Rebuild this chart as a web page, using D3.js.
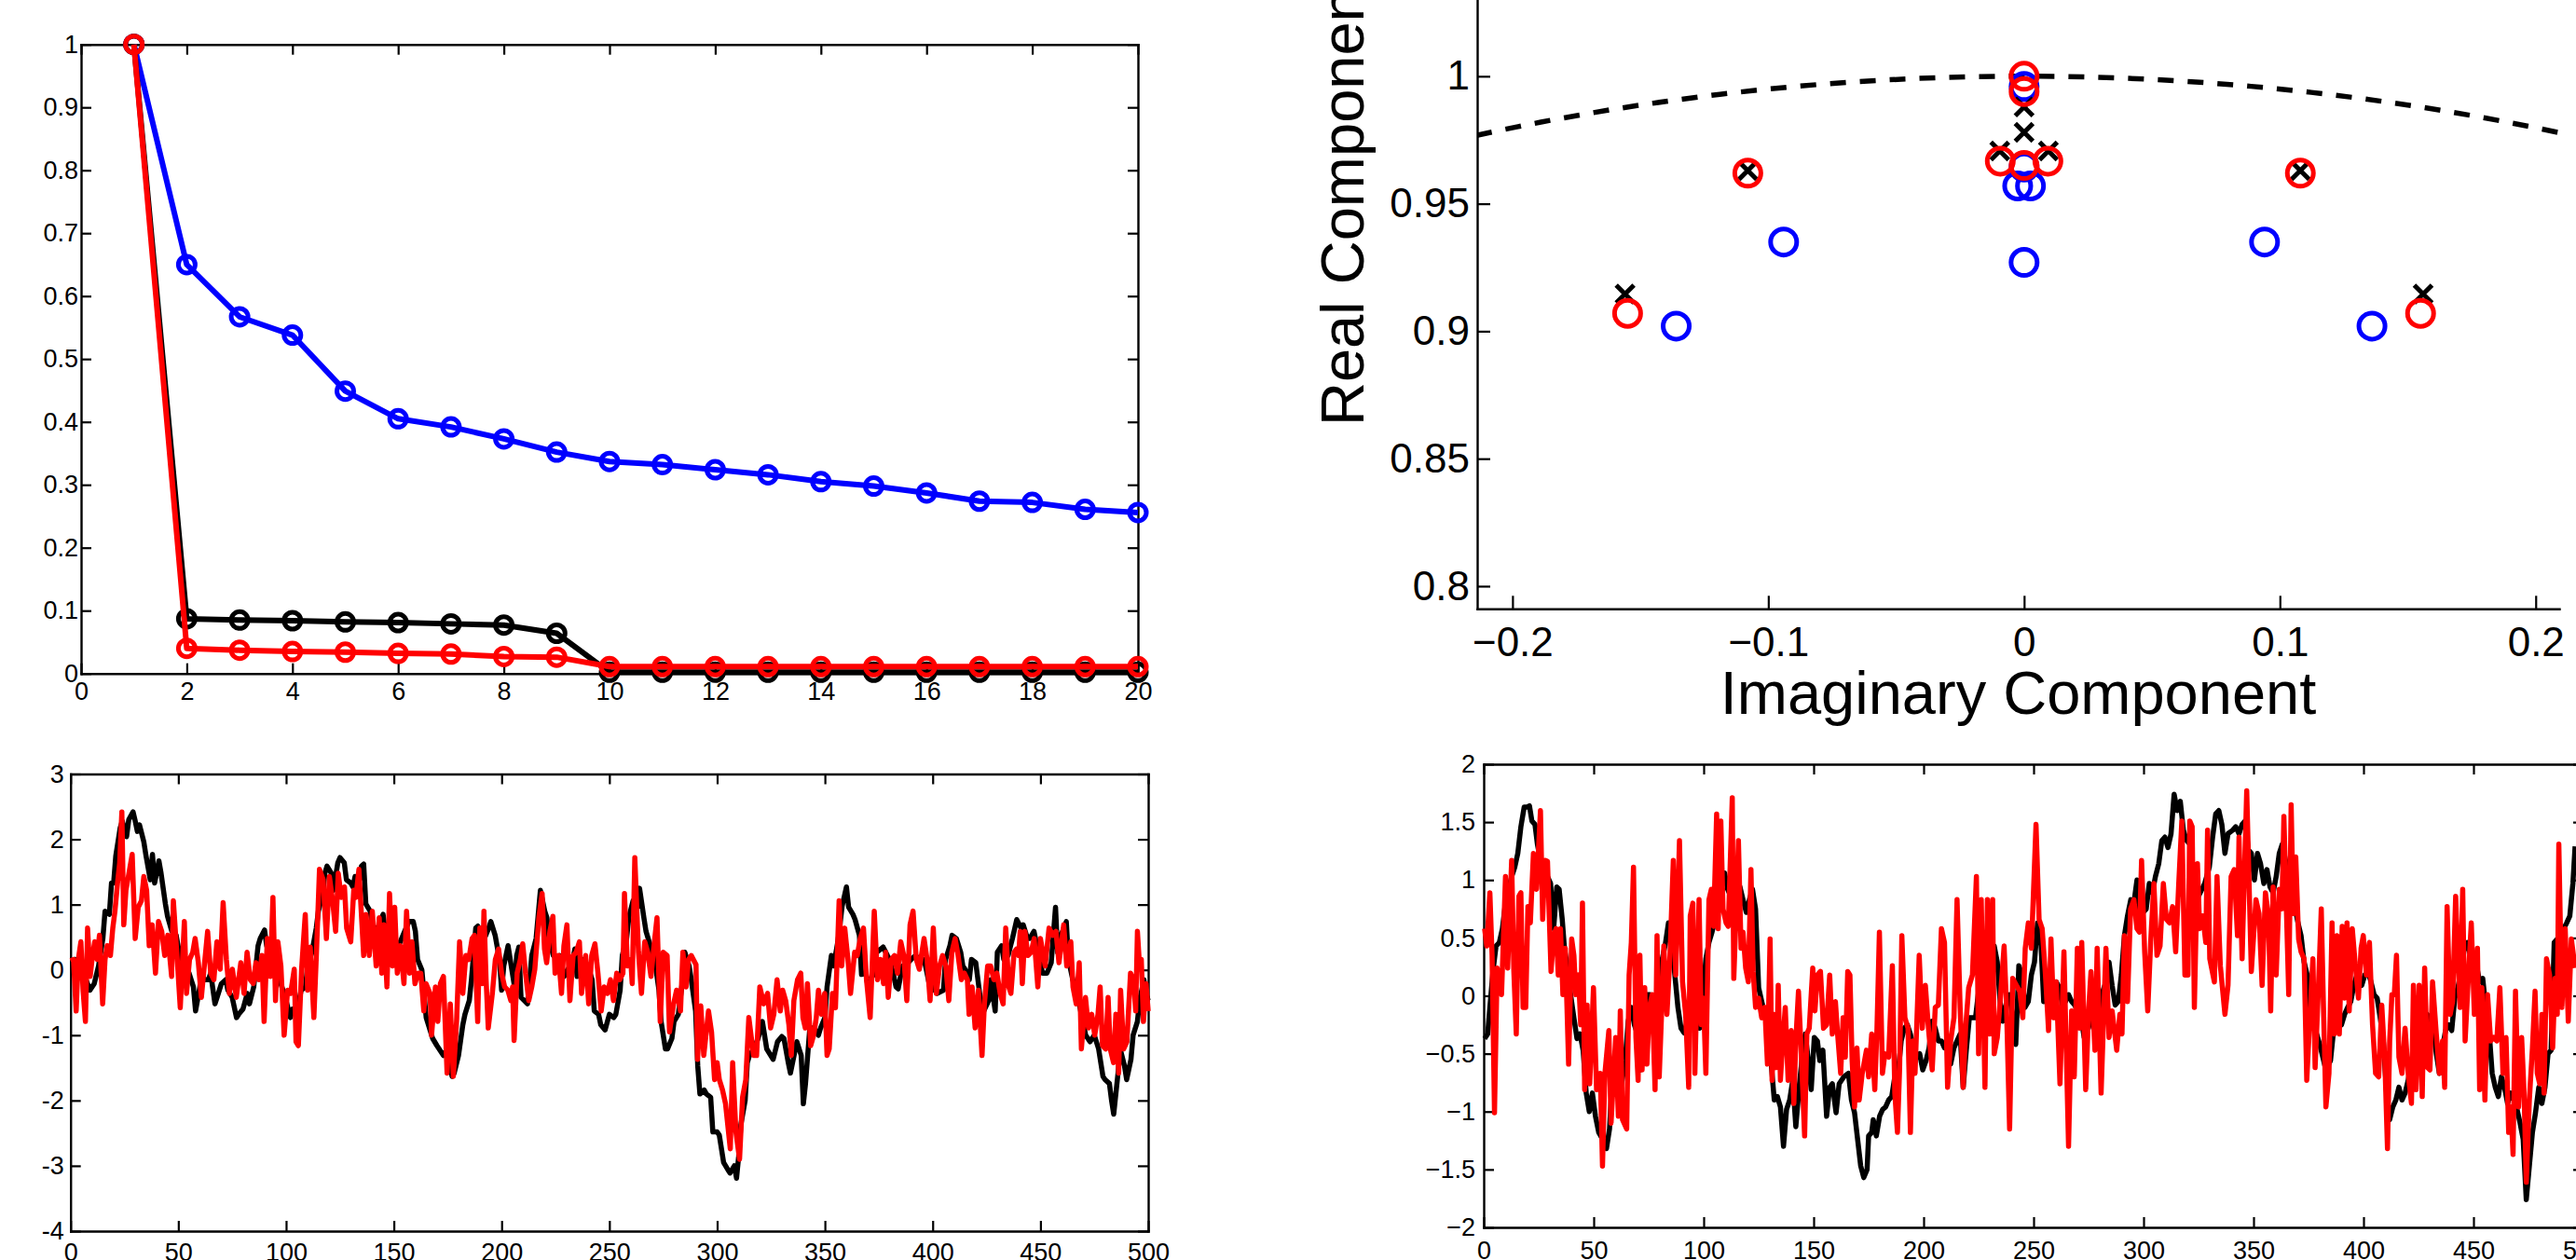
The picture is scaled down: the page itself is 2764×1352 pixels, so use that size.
<!DOCTYPE html>
<html>
<head>
<meta charset="utf-8">
<script src="https://cdn.jsdelivr.net/npm/d3@7"></script>
<style>
  body { margin: 0; background: #fff; }
  svg { display: block; }
</style>
</head>
<body>
<div id="chart"></div>
<script>
// ---- panel 1: normalised spectra ----
const rank = [1,2,3,4,5,6,7,8,9,10,11,12,13,14,15,16,17,18,19,20];
const specBlue = [1.0,0.65,0.567,0.538,0.449,0.405,0.392,0.373,0.352,0.337,0.332,0.324,0.316,0.305,0.298,0.287,0.274,0.272,0.261,0.256];
const specBlack = [1.0,0.087,0.085,0.084,0.082,0.081,0.079,0.077,0.064,0.002,0.002,0.002,0.002,0.002,0.002,0.002,0.002,0.002,0.002,0.002];
const specRed = [1.0,0.040,0.037,0.035,0.034,0.032,0.031,0.027,0.026,0.011,0.011,0.011,0.011,0.011,0.011,0.011,0.011,0.011,0.011,0.011];
const specXTicks = [0,2,4,6,8,10,12,14,16,18,20];
const specYTicks = [0,0.1,0.2,0.3,0.4,0.5,0.6,0.7,0.8,0.9,1];

// ---- panel 2: eigenvalues [imag, real] ----
const eigBlue = [[-0.094,0.935],[0.094,0.935],[-0.136,0.902],[0.136,0.902],[0,0.927],[-0.0025,0.957],[0.0025,0.957],[0,0.9644],[0,0.996]];
const eigBlack = [[0,0.988],[0,0.978],[-0.0095,0.9707],[0.0095,0.9707],[-0.108,0.963],[0.108,0.963],[-0.156,0.9146],[0.156,0.9146]];
const eigRed = [[0,1.0],[0,0.994],[-0.0093,0.9667],[0.0093,0.9667],[0,0.965],[-0.108,0.962],[0.108,0.962],[-0.155,0.907],[0.155,0.907]];
const eigXTicks = [-0.2,-0.1,0,0.1,0.2];
const eigYTicks = [0.8,0.85,0.9,0.95,1];

// ---- panel 3: first time series [t, value] ----
const ts1Black = [[0,0.14],[2,0.16],[6,-0.05],[9,-0.31],[11,-0.21],[13,0.06],[15,0.48],[16,0.90],[18,0.85],[19,1.33],[20,1.33],[21,1.75],[23,2.17],[24,2.28],[26,2.04],[27,2.30],[29,2.42],[30,2.28],[31,2.12],[32,2.22],[34,1.96],[35,1.75],[37,1.38],[38,1.77],[39,1.33],[41,1.67],[42,1.48],[44,1.01],[45,0.82],[47,0.59],[49,0.53],[51,0.16],[53,0.06],[55,-0.05],[57,-0.26],[58,-0.63],[60,-0.26],[61,-0.05],[62,-0.15],[64,-0.15],[65,-0.05],[67,-0.52],[68,-0.42],[70,-0.21],[72,-0.15],[73,-0.31],[75,-0.42],[77,-0.73],[78,-0.68],[80,-0.60],[82,-0.36],[83,-0.52],[85,-0.26],[87,0.37],[88,0.48],[90,0.61],[91,0.37],[93,0.16],[94,-0.05],[96,0.06],[97,-0.15],[99,-0.36],[100,-0.47],[102,-0.73],[103,-0.60],[104,-0.63],[106,-0.47],[107,-0.31],[109,-0.26],[110,0.06],[112,0.27],[114,0.64],[115,0.90],[117,1.17],[118,1.48],[119,1.59],[121,1.48],[122,1.22],[124,1.64],[125,1.72],[127,1.64],[128,1.38],[130,1.33],[131,1.27],[132,1.43],[134,1.38],[135,1.59],[136,1.62],[137,1.01],[139,0.90],[140,0.69],[142,0.59],[145,0.85],[146,0.59],[148,0.37],[149,0.22],[150,0.16],[152,0.37],[153,0.43],[155,0.59],[157,0.74],[159,0.74],[160,0.59],[161,0.16],[163,0.0],[165,-0.73],[168,-1.05],[170,-1.16],[173,-1.31],[175,-1.21],[177,-1.63],[178,-1.58],[180,-1.31],[182,-0.84],[183,-0.68],[185,-0.47],[186,-0.15],[188,0.64],[189,0.67],[191,0.43],[192,0.48],[194,0.64],[195,0.74],[197,0.53],[199,0.16],[200,-0.31],[201,0.06],[203,0.37],[204,0.16],[206,-0.26],[207,0.22],[208,0.35],[209,-0.42],[212,-0.52],[213,-0.15],[214,0.22],[216,0.48],[218,1.22],[220,0.90],[221,0.80],[222,0.48],[224,0.22],[226,0.16],[227,0.22],[229,-0.10],[230,-0.05],[233,0.16],[234,0.32],[235,-0.10],[238,0.16],[240,0.06],[242,-0.15],[243,-0.63],[245,-0.68],[246,-0.84],[248,-0.92],[250,-0.68],[252,-0.73],[253,-0.68],[255,-0.31],[256,0.22],[258,0.48],[259,0.80],[261,1.06],[263,0.96],[264,1.25],[266,0.80],[267,0.59],[269,0.37],[271,0.16],[273,-0.31],[274,-0.79],[276,-1.21],[277,-1.21],[279,-1.05],[280,-0.79],[282,-0.68],[284,-0.15],[285,0.27],[287,0.06],[288,-0.15],[290,-0.63],[291,-1.47],[292,-1.90],[294,-1.84],[295,-1.90],[297,-1.95],[298,-2.48],[300,-2.48],[301,-2.53],[303,-2.95],[305,-3.06],[306,-3.11],[308,-3.00],[309,-3.19],[310,-2.85],[311,-2.37],[313,-2.00],[314,-1.42],[315,-1.31],[317,-1.21],[319,-1.05],[321,-0.79],[322,-1.00],[323,-1.21],[326,-1.37],[328,-1.10],[330,-1.02],[331,-1.05],[333,-1.42],[334,-1.58],[336,-1.26],[337,-1.10],[339,-1.31],[340,-2.05],[341,-1.74],[343,-0.89],[345,-0.89],[347,-1.0],[348,-0.89],[350,-0.73],[351,-0.26],[353,0.22],[354,0.06],[356,0.43],[357,0.69],[358,0.98],[360,1.27],[361,0.96],[363,0.85],[364,0.77],[366,0.53],[367,-0.07],[369,-0.05],[370,-0.26],[371,-0.15],[373,-0.05],[374,0.27],[376,0.32],[377,0.35],[379,0.22],[380,0.16],[382,-0.10],[383,-0.26],[384,-0.29],[386,0.06],[387,0.06],[390,0.16],[392,0.22],[394,0.16],[396,0.16],[397,0.01],[399,-0.31],[400,-0.26],[402,-0.36],[405,-0.31],[406,0.16],[408,0.37],[409,0.53],[411,0.48],[413,0.27],[414,0.06],[415,0.01],[417,-0.15],[418,0.16],[420,0.11],[421,-0.15],[423,-0.68],[426,-0.47],[427,-0.15],[429,-0.63],[430,0.27],[432,0.37],[433,0.16],[435,0.22],[437,0.48],[439,0.77],[441,0.64],[442,0.69],[444,0.48],[445,0.48],[447,0.59],[449,0.27],[451,-0.05],[453,-0.05],[455,0.11],[457,0.96],[458,0.27],[459,0.48],[462,0.74],[463,0.16],[465,-0.15],[467,-0.36],[469,-0.68],[471,-1.0],[473,-1.10],[475,-1.0],[477,-1.21],[479,-1.63],[480,-1.68],[482,-1.74],[483,-2.00],[484,-2.21],[486,-1.58],[487,-1.21],[489,-1.47],[490,-1.68],[492,-1.37],[493,-1.0],[495,-0.79],[496,-0.47],[498,-0.15],[499,-0.36],[500,-0.47]];
const ts1Red = [[0,0.14],[1.4,0.16],[2.6,-0.63],[3.6,0.16],[4.8,0.43],[5.8,-0.31],[6.9,-0.79],[7.9,0.64],[9.1,-0.10],[10.2,0.22],[11.2,0.43],[12.3,0.16],[13.4,0.53],[14.9,-0.52],[16.0,0.16],[17.0,0.37],[18.5,0.22],[19.6,0.64],[20.6,0.90],[21.8,1.33],[22.8,1.64],[23.8,2.42],[24.7,0.69],[25.7,1.22],[27.1,1.48],[28.6,1.77],[30.0,0.48],[31.4,0.96],[32.9,1.06],[34.0,1.43],[35.3,1.22],[36.5,0.37],[37.9,0.69],[39.4,-0.05],[40.8,0.74],[42.3,0.59],[43.7,0.22],[45.1,0.53],[46.9,-0.10],[47.7,1.06],[49.5,0.16],[50.9,-0.58],[52.8,0.74],[53.8,-0.36],[55.2,0.16],[56.7,0.27],[57.8,0.48],[59.3,0.11],[60.7,-0.42],[62.2,0.11],[63.6,0.59],[65.0,-0.05],[66.5,-0.15],[67.9,0.43],[69.4,0.01],[70.8,1.03],[72.3,0.16],[73.7,-0.36],[75.1,0.01],[76.9,-0.42],[79.0,0.11],[80.5,-0.36],[81.9,0.27],[83.4,-0.15],[84.8,-0.21],[86.0,0.11],[87.4,-0.15],[88.8,0.22],[89.8,-0.79],[91.3,0.48],[92.7,-0.10],[93.9,1.11],[95.1,-0.47],[96.2,0.43],[97.6,0.06],[99.1,-1.0],[100.7,-0.31],[102.1,-0.36],[103.8,0.01],[104.6,-1.10],[105.7,-1.16],[107.2,0.01],[108.9,0.85],[110.0,-0.31],[111.2,0.35],[112.9,-0.73],[114.1,0.27],[115.5,1.54],[117.2,1.38],[118.7,0.48],[120.1,1.43],[121.6,1.06],[123.0,0.59],[124.2,1.48],[125.6,1.11],[127.1,1.27],[128.1,0.64],[130.0,0.43],[131.4,1.22],[132.4,1.11],[133.8,1.54],[136.0,0.22],[137.1,0.85],[138.6,0.22],[140.0,0.90],[141.8,0.06],[143.2,0.80],[144.4,-0.05],[145.4,0.69],[146.8,-0.26],[148.0,1.17],[149.4,0.06],[150.4,0.96],[151.6,-0.05],[153.0,0.37],[154.7,-0.21],[155.9,0.90],[157.3,-0.05],[158.4,0.43],[159.8,-0.21],[161.2,-0.05],[162.5,-0.05],[163.9,-0.63],[164.9,-0.21],[166.8,-0.36],[167.5,-1.0],[169.3,-0.26],[170.4,-0.79],[171.6,-0.21],[173.0,-0.10],[174.7,-1.58],[176.2,-0.52],[177.6,-1.63],[179.1,-0.79],[180.5,0.43],[182.0,-0.36],[183.4,0.22],[184.8,0.16],[186.3,0.48],[187.4,0.53],[188.9,-0.79],[189.9,0.64],[191.1,-0.21],[191.8,0.90],[192.8,-0.15],[193.8,-0.89],[195.7,-0.36],[197.1,0.16],[198.6,0.32],[200.0,-0.05],[201.4,-0.26],[202.9,-0.31],[204.3,-0.47],[205.1,-0.26],[205.8,-1.08],[207.2,-0.05],[208.7,0.16],[209.8,0.40],[211.1,-0.05],[212.6,-0.47],[214.0,-0.26],[215.4,0.01],[217.3,0.80],[218.8,1.17],[219.9,0.32],[220.9,0.11],[222.4,0.59],[223.8,0.82],[224.8,-0.05],[226.4,0.22],[227.8,-0.36],[228.9,0.37],[230.3,0.69],[231.7,-0.47],[233.2,0.22],[234.6,0.27],[236.1,0.43],[237.1,-0.36],[239.0,0.22],[240.4,-0.52],[241.8,0.22],[243.3,0.40],[244.7,-0.05],[246.2,-0.63],[247.6,-0.26],[249.1,-0.36],[250.5,-0.15],[251.9,-0.47],[253.4,-0.05],[254.8,-0.15],[256.3,-0.05],[257.0,1.17],[258.4,0.06],[259.9,0.16],[260.6,-0.21],[261.8,1.72],[263.5,0.27],[264.9,-0.36],[266.4,0.43],[267.8,0.27],[269.3,-0.10],[270.7,0.37],[272.1,0.80],[273.6,-0.79],[275.0,0.27],[276.8,0.22],[277.9,-0.95],[279.8,-0.52],[281.2,-0.31],[283.0,-0.63],[284.1,0.27],[285.6,-0.26],[286.7,0.16],[288.0,0.22],[290.2,0.08],[290.9,-1.37],[292.4,-0.55],[293.8,-1.31],[296.0,-0.63],[297.4,-0.95],[298.8,-1.68],[300.0,-1.42],[301.0,-1.68],[302.5,-1.84],[303.9,-2.05],[306.1,-2.74],[307.2,-1.42],[308.7,-2.48],[310.4,-2.90],[311.8,-1.95],[313.3,-1.68],[314.7,-0.73],[316.9,-1.31],[318.3,-1.31],[319.8,-0.26],[321.6,-0.52],[323.4,-0.36],[324.8,-0.89],[326.3,-0.68],[327.8,-0.15],[329.3,-0.63],[330.4,-0.31],[331.8,-0.47],[333.3,-0.84],[334.4,-1.31],[335.6,-0.47],[337.3,-0.15],[338.8,-0.05],[339.8,-0.73],[340.9,-0.89],[341.9,-0.21],[343.4,-1.16],[344.8,-1.0],[346.0,-0.73],[347.0,-0.31],[348.4,-0.68],[349.9,-0.36],[351.0,-1.31],[352.0,-1.21],[353.5,-0.36],[354.9,-0.58],[356.6,1.06],[357.8,0.06],[359.2,0.64],[360.7,0.16],[361.9,-0.36],[363.8,0.27],[365.0,0.22],[366.4,0.48],[367.9,0.64],[369.3,-0.15],[371.0,-0.73],[372.9,0.90],[374.4,-0.15],[375.8,0.16],[377.2,-0.21],[378.2,0.27],[379.4,-0.42],[380.8,0.16],[382.3,0.22],[383.7,-0.05],[385.2,0.43],[386.6,0.22],[388.0,-0.47],[389.5,0.69],[390.9,0.90],[392.4,0.16],[393.8,0.01],[396.0,0.48],[397.4,0.16],[398.8,-0.47],[400.3,0.64],[401.7,-0.36],[403.2,0.06],[404.6,0.22],[406.1,0.06],[407.5,-0.47],[408.9,0.27],[410.4,0.48],[411.8,0.22],[413.3,-0.15],[414.7,-0.05],[416.1,-0.15],[416.9,-0.68],[418.3,-0.26],[419.7,-0.89],[421.2,-0.31],[422.9,-1.31],[424.0,-0.52],[425.5,0.06],[426.9,0.06],[428.4,-0.15],[429.8,-0.05],[431.3,-0.36],[432.7,-0.52],[433.9,0.64],[435.3,-0.26],[436.3,-0.36],[437.8,0.27],[438.9,0.32],[439.9,0.22],[440.6,0.59],[441.6,-0.21],[442.8,0.59],[444.2,0.22],[445.7,0.27],[447.1,0.48],[448.8,-0.26],[450.0,0.48],[452.2,0.06],[454.0,0.64],[455.8,0.53],[457.2,0.59],[458.6,0.11],[460.8,0.69],[462.2,0.06],[464.1,0.43],[465.1,-0.26],[466.6,-0.52],[468.0,0.11],[469.0,-1.21],[470.9,-0.42],[472.3,-0.89],[473.8,-0.68],[475.2,-1.0],[476.7,-0.68],[477.7,-0.26],[478.8,-1.16],[480.3,-1.21],[481.4,-0.42],[482.4,-1.21],[483.9,-1.42],[485.0,-0.68],[486.3,-1.58],[487.2,-0.31],[488.6,-1.21],[490.1,-1.10],[491.8,-0.05],[493.2,-0.15],[494.2,-0.63],[495.0,0.59],[495.8,0.16],[496.8,0.16],[497.8,-0.79],[499.0,-0.21],[500,-0.63]];
const ts1YTicks = [-4,-3,-2,-1,0,1,2,3];

// ---- panel 4: second time series [t, value] ----
const ts2Black = [[0.4,-0.37],[1.8,-0.33],[2.8,-0.10],[4.2,0.21],[5.6,0.43],[7.1,0.46],[8.5,0.58],[9.9,0.80],[11.3,0.92],[12.7,1.03],[14.1,1.11],[15.5,1.23],[16.9,1.46],[18.4,1.63],[19.8,1.63],[20.8,1.64],[21.9,1.51],[23.3,1.48],[24.4,1.31],[25.8,1.17],[27.5,1.09],[29.0,1.03],[30.4,0.97],[31.8,0.58],[33.2,0.94],[34.3,0.92],[35.7,0.66],[36.7,0.41],[38.1,0.24],[39.5,0.01],[41.0,-0.19],[42.4,-0.37],[43.8,-0.33],[45.2,-0.47],[46.6,-0.84],[48.0,-1.0],[49.4,-0.84],[50.8,-1.04],[52.3,-1.18],[54.1,-1.24],[55.8,-1.32],[57.2,-1.15],[58.6,-0.67],[60.0,-0.70],[61.4,-0.87],[62.9,-0.73],[64.3,-0.56],[65.7,-0.22],[67.1,-0.10],[68.5,-0.25],[69.9,-0.33],[71.3,-0.64],[72.7,-0.39],[74.2,0.01],[75.6,0.01],[77.0,-0.16],[78.4,-0.10],[79.8,0.01],[81.2,0.32],[82.6,0.45],[84.0,0.63],[85.5,0.46],[86.9,0.18],[88.3,-0.10],[89.7,-0.28],[91.1,-0.32],[92.5,-0.22],[93.9,-0.10],[95.3,-0.05],[96.8,-0.16],[98.2,-0.28],[99.6,-0.02],[101.0,0.32],[102.4,0.46],[103.8,0.55],[105.2,0.66],[106.6,0.83],[108.1,0.94],[109.5,1.06],[110.9,0.92],[112.3,0.86],[113.7,0.97],[115.1,1.00],[116.5,0.94],[117.9,0.83],[119.4,0.72],[120.8,0.83],[122.2,0.92],[123.6,0.75],[125.0,0.07],[126.4,-0.05],[127.8,-0.16],[129.2,-0.30],[130.6,-0.56],[132.1,-0.90],[133.5,-0.87],[134.9,-0.96],[136.3,-1.30],[137.7,-0.98],[139.1,-0.90],[140.5,-0.73],[141.9,-1.13],[143.4,-0.79],[144.8,-0.53],[146.2,-0.33],[147.6,-0.56],[148.9,-0.81],[150.3,-0.36],[151.7,-0.39],[152.8,-0.56],[154.2,-0.47],[155.9,-1.04],[157.3,-0.79],[158.5,-0.76],[160.2,-1.01],[161.6,-0.76],[163.7,-0.70],[165.8,-0.67],[167.2,-0.90],[168.6,-1.01],[170.0,-1.24],[171.4,-1.47],[172.8,-1.57],[174.3,-1.50],[175.0,-1.21],[176.4,-1.18],[177.1,-1.07],[178.5,-1.21],[180.0,-1.04],[181.4,-0.98],[182.7,-0.96],[184.1,-0.90],[185.5,-0.87],[186.9,-0.70],[188.4,-0.67],[189.8,-0.39],[191.2,-0.28],[192.6,-0.25],[194.0,-0.33],[195.4,-0.45],[196.8,-0.53],[198.2,-0.50],[199.6,-0.64],[201.1,-0.56],[202.5,-0.45],[203.9,-0.22],[205.3,-0.28],[206.7,-0.39],[208.1,-0.39],[209.5,-0.45],[210.9,-0.39],[212.3,-0.59],[213.8,-0.45],[215.2,-0.39],[216.6,-0.33],[218.0,-0.79],[219.4,-0.47],[220.8,-0.19],[222.2,-0.19],[223.6,-0.19],[225.0,0.04],[226.5,0.21],[227.9,0.18],[229.3,0.24],[230.7,0.29],[232.1,0.43],[233.5,0.29],[234.9,-0.08],[236.0,-0.22],[237.7,-0.05],[239.1,0.01],[240.5,-0.19],[241.9,-0.42],[243.3,0.26],[244.7,0.18],[246.1,-0.10],[247.6,-0.05],[249.0,0.18],[250.4,0.29],[251.8,0.63],[253.2,0.52],[254.6,-0.05],[256.0,-0.02],[257.5,-0.05],[258.9,0.01],[260.3,0.12],[261.7,0.07],[263.1,-0.08],[264.5,-0.05],[265.9,0.01],[267.3,-0.05],[268.7,-0.08],[270.2,-0.14],[271.6,-0.19],[273.0,-0.36],[274.4,-0.30],[275.8,-0.16],[277.2,-0.28],[278.6,-0.33],[280.0,-0.05],[281.5,0.04],[282.9,0.12],[284.3,0.29],[285.7,0.09],[287.1,-0.08],[288.5,-0.05],[289.9,0.18],[291.3,0.52],[292.7,0.69],[294.2,0.83],[295.6,0.80],[297.0,1.00],[298.4,0.69],[299.8,0.72],[301.2,0.75],[302.6,0.97],[304.0,0.89],[305.4,1.03],[306.9,1.14],[308.3,1.34],[309.7,1.37],[311.1,1.28],[312.5,1.40],[313.9,1.74],[315.3,1.60],[316.7,1.68],[318.1,1.43],[319.6,1.34],[321.0,1.31],[322.4,1.11],[323.8,0.94],[325.0,0.86],[327.8,0.97],[329.9,1.11],[331.4,1.37],[332.8,1.57],[334.2,1.60],[335.6,1.48],[337.0,1.23],[338.4,1.40],[340.5,1.43],[341.9,1.46],[343.4,1.40],[344.8,1.48],[346.2,1.51],[347.6,1.26],[349.0,1.23],[350.4,1.00],[351.8,1.23],[353.2,1.14],[354.7,0.97],[356.1,1.09],[357.5,0.94],[358.9,0.89],[360.3,1.03],[361.7,1.23],[363.1,1.31],[364.5,1.17],[366.0,1.03],[367.4,0.92],[368.8,0.77],[370.2,0.63],[371.6,0.52],[373.0,0.29],[374.4,0.18],[375.8,-0.10],[377.3,-0.22],[378.7,-0.33],[380.1,-0.42],[381.5,-0.53],[382.9,-0.64],[385.0,-0.56],[386.4,-0.30],[387.9,-0.22],[390.0,-0.25],[391.4,-0.16],[392.8,-0.10],[394.2,-0.05],[395.6,0.09],[397.0,0.18],[399.2,0.09],[400.6,0.18],[402.0,0.21],[403.4,0.12],[404.8,0.01],[406.2,-0.02],[407.6,-0.19],[409.0,-0.39],[410.5,-0.84],[411.9,-1.07],[413.3,-0.96],[414.7,-0.90],[416.1,-0.79],[417.5,-0.90],[418.9,-0.84],[420.3,-0.73],[421.8,-0.56],[423.2,-0.47],[424.6,-0.36],[426.0,-0.33],[427.4,-0.22],[428.8,-0.16],[430.2,-0.19],[431.6,-0.25],[433.1,-0.50],[434.5,-0.67],[435.9,-0.45],[437.3,-0.30],[438.7,-0.25],[440.1,-0.30],[441.5,-0.02],[442.9,0.07],[444.4,0.21],[445.8,0.41],[447.2,0.46],[448.6,0.35],[450.0,0.35],[451.4,0.26],[452.8,0.12],[454.2,0.15],[455.6,-0.10],[457.1,-0.30],[458.5,-0.67],[459.9,-0.79],[461.3,-0.87],[462.7,-0.70],[464.1,-0.79],[465.5,-0.93],[466.9,-0.84],[468.4,-0.90],[469.8,-0.98],[471.2,-1.10],[472.6,-1.24],[474.0,-1.76],[475.4,-1.47],[476.8,-1.18],[478.2,-1.01],[479.7,-0.79],[481.1,-0.93],[482.5,-0.79],[483.9,-0.50],[485.3,-0.47],[486.7,0.46],[488.1,0.49],[489.5,0.52],[491.0,0.58],[492.4,0.63],[493.8,0.69],[495.2,0.97],[496.2,1.29]];
const ts2Red = [[0.4,0.58],[1.4,0.43],[2.8,0.89],[3.8,0.35],[4.9,-1.01],[6.1,0.24],[7.1,0.09],[8.1,0.01],[9.9,1.03],[10.9,0.24],[12.7,1.17],[13.7,0.21],[14.8,-0.33],[16.0,0.86],[16.9,0.89],[17.9,-0.10],[19.1,-0.10],[20.1,0.77],[21.2,0.63],[22.6,1.23],[24.0,0.92],[25.8,1.60],[26.8,0.66],[27.8,1.17],[29.0,1.16],[30.6,0.21],[31.8,0.52],[32.9,0.58],[33.9,0.18],[34.9,0.58],[36.0,0.01],[37.1,0.41],[38.6,-0.59],[40.0,0.49],[41.0,0.35],[41.9,0.01],[43.1,0.18],[44.1,-0.25],[44.9,0.80],[45.9,-0.81],[47.0,-0.08],[48.2,-0.76],[49.9,0.07],[51.3,-0.81],[53.0,-0.67],[54.0,-1.47],[55.1,-0.67],[56.9,-0.30],[57.9,-1.10],[60.0,-0.36],[61.2,-1.04],[62.1,-0.13],[63.1,-1.07],[65.0,-1.15],[66.1,0.18],[67.1,0.46],[68.1,1.11],[69.2,-0.36],[70.2,-0.73],[71.0,0.35],[72.0,-0.64],[73.2,0.07],[74.2,-0.59],[75.3,-0.10],[76.6,0.01],[77.9,-0.81],[78.8,0.52],[79.8,-0.70],[80.9,-0.13],[81.9,0.43],[83.3,-0.16],[84.7,0.35],[86.2,1.17],[87.3,0.18],[89.0,1.34],[90.4,0.12],[91.8,-0.16],[93.2,-0.79],[93.9,0.69],[95.1,0.80],[96.0,-0.67],[97.9,0.83],[98.9,-0.25],[99.9,-0.02],[101.0,-0.67],[102.4,0.83],[103.5,0.92],[104.5,0.60],[105.9,1.57],[106.6,0.58],[107.8,1.51],[108.8,0.75],[110.2,0.63],[111.2,0.60],[113.0,1.71],[113.7,0.15],[114.8,0.75],[115.8,1.34],[117.0,0.41],[117.9,0.55],[119.1,0.24],[120.3,0.12],[121.5,1.09],[122.5,0.21],[123.6,-0.10],[125.0,-0.02],[126.4,-0.19],[127.8,-0.10],[129.0,-0.59],[130.2,0.49],[131.1,-0.73],[132.1,-0.16],[133.1,-0.62],[133.9,0.09],[134.9,-0.73],[136.0,-0.39],[137.1,-0.10],[138.4,-0.73],[139.8,-0.30],[141.0,-0.93],[141.9,-0.39],[143.1,0.04],[144.2,-0.42],[145.9,-1.21],[146.9,-0.33],[148.0,-0.28],[149.6,0.24],[150.6,-0.13],[151.7,0.18],[153.1,0.21],[154.5,-0.28],[155.9,-0.25],[157.3,0.18],[158.5,-0.33],[159.9,-0.05],[160.9,-0.33],[162.3,-0.67],[163.4,-0.19],[164.4,-0.53],[165.5,0.21],[166.5,0.18],[167.5,-0.56],[168.6,-0.96],[169.7,-0.45],[170.7,-0.90],[172.1,-0.67],[174.0,-0.47],[175.0,-0.70],[176.4,-0.33],[177.8,-0.81],[178.8,-0.28],[179.9,0.55],[181.3,-0.67],[182.4,-0.50],[184.1,-0.53],[185.8,0.26],[186.9,-0.84],[188.1,-1.18],[189.1,-0.62],[190.1,0.52],[191.5,-0.19],[192.9,-0.28],[194.0,-1.18],[195.1,-0.39],[196.1,-0.67],[198.0,0.35],[199.4,-0.28],[200.8,0.09],[202.2,-0.28],[203.9,-0.64],[205.3,-0.10],[206.7,-0.08],[208.1,0.58],[209.5,0.46],[210.9,-0.79],[212.3,-0.39],[213.8,-0.19],[215.2,0.83],[216.6,-0.10],[218.0,-0.79],[219.1,-0.28],[220.5,0.07],[222.2,0.18],[224.0,1.03],[225.0,-0.50],[226.2,0.83],[227.9,-0.79],[229.0,0.83],[230.0,-0.33],[231.4,0.83],[232.1,-0.50],[233.5,-0.36],[234.9,-0.02],[236.6,0.43],[237.7,-0.10],[239.1,-1.15],[240.5,0.15],[242.2,0.09],[243.7,0.04],[245.1,-0.19],[246.2,0.41],[247.6,0.63],[249.0,0.41],[251.1,1.48],[252.5,0.66],[253.9,0.58],[255.4,0.18],[256.8,-0.30],[257.9,0.49],[259.2,-0.19],[260.3,0.12],[262.0,-0.76],[263.8,0.38],[265.9,-1.30],[267.3,-0.13],[268.5,-0.70],[269.9,0.41],[270.9,-0.28],[271.9,0.46],[273.7,-0.81],[275.1,-0.10],[276.1,0.21],[277.9,-0.47],[278.9,0.41],[280.7,-0.84],[282.9,0.41],[284.3,-0.36],[285.7,-0.13],[287.8,-0.47],[289.2,-0.16],[290.2,-0.33],[291.3,0.52],[292.7,-0.05],[294.1,0.75],[295.6,0.83],[297.0,0.58],[298.1,0.55],[299.1,1.17],[300.5,0.38],[301.9,-0.13],[303.3,0.49],[304.7,0.97],[306.1,0.35],[307.5,0.43],[309.0,0.97],[310.4,0.66],[311.8,0.63],[313.2,0.77],[314.6,0.38],[316.0,0.97],[317.4,1.51],[318.8,0.18],[320.2,0.18],[321.0,1.51],[322.1,1.46],[323.1,-0.10],[324.5,1.14],[325.5,0.58],[326.9,0.69],[328.3,0.46],[329.1,1.43],[330.1,0.32],[332.2,0.12],[333.4,1.03],[334.9,0.26],[337.0,-0.16],[338.4,0.09],[339.8,1.03],[341.2,1.09],[342.7,0.52],[343.4,1.37],[344.8,0.32],[346.9,1.77],[349.0,0.21],[351.1,0.83],[352.5,0.71],[353.9,0.09],[355.4,0.89],[356.8,0.69],[357.8,-0.13],[358.9,0.94],[360.3,0.18],[361.7,0.92],[362.9,0.75],[363.8,1.55],[366.0,0.01],[367.1,1.65],[368.1,0.71],[369.2,1.20],[370.5,0.49],[371.6,0.38],[373.0,0.32],[374.2,-0.73],[375.6,-0.19],[377.0,0.32],[378.0,-0.62],[379.4,0.01],[380.8,0.75],[381.8,-0.10],[382.9,-0.96],[384.3,-0.67],[385.7,0.63],[386.7,-0.33],[387.9,0.52],[389.0,-0.33],[390.3,0.60],[391.4,-0.02],[392.5,0.63],[393.5,-0.13],[394.9,0.58],[396.3,0.26],[397.7,-0.02],[398.9,0.41],[399.9,0.52],[401.3,0.18],[402.7,0.46],[404.1,-0.25],[405.5,-0.67],[406.9,-0.70],[408.3,-0.08],[409.7,-0.56],[410.9,-1.32],[411.9,-0.39],[412.9,0.01],[414.0,0.01],[415.0,0.35],[416.1,-0.53],[417.5,-0.67],[418.9,-0.28],[420.3,-0.67],[421.8,-0.93],[422.7,0.09],[423.9,-0.81],[425.3,0.09],[426.7,-0.87],[427.8,0.24],[429.1,-0.62],[430.2,-0.64],[431.4,0.12],[433.1,-0.33],[434.5,-0.67],[435.9,-0.39],[436.9,-0.79],[438.0,0.77],[439.4,-0.16],[440.5,-0.05],[441.9,0.86],[442.9,0.35],[443.9,-0.10],[445.1,0.92],[446.2,-0.39],[447.9,0.24],[449.0,0.63],[450.4,-0.16],[451.8,0.41],[452.8,-0.81],[453.8,0.07],[455.2,-0.90],[456.4,0.01],[457.8,-0.39],[459.2,-0.36],[460.6,-0.39],[462.0,0.07],[463.4,-0.67],[464.8,-0.36],[466.0,-1.18],[467.0,-0.96],[468.0,-1.37],[469.1,0.04],[470.5,-0.96],[471.9,-0.36],[473.0,-0.84],[474.0,-1.61],[475.4,-0.90],[476.8,-0.45],[478.0,0.04],[479.0,-0.67],[480.1,-0.76],[481.1,-0.16],[482.1,-0.84],[483.2,0.32],[484.6,0.18],[486.0,-0.45],[487.1,0.15],[488.1,-0.16],[488.8,1.31],[490.2,-0.10],[491.7,0.58],[493.1,-0.22],[494.5,0.49],[496.2,0.24]];
const ts2YTicks = [-2,-1.5,-1,-0.5,0,0.5,1,1.5,2];
const tsXTicks = [0,50,100,150,200,250,300,350,400,450,500];

// ---- drawing ----
const W = 2764, H = 1352;
const FONT = '"Liberation Sans", Arial, Helvetica, sans-serif';
const minus = d => (d < 0 ? "\u2212" + Math.abs(d) : String(d));

const svg = d3.select("#chart").append("svg")
  .attr("width", W).attr("height", H)
  .style("background", "#fff");

// MATLAB style axes: inward ticks, optional full box
function frame(x, y, o) {
  const g = svg.append("g");
  const [xa, xb] = x.range();
  const [ya, yb] = y.range(); // ya = bottom, yb = top

  g.append("g").attr("transform", `translate(0,${ya})`)
    .call(d3.axisBottom(x).tickValues(o.xt).tickFormat(o.xf)
      .tickSizeInner(-o.tick).tickSizeOuter(0).tickPadding(o.xpad));
  g.append("g").attr("transform", `translate(${xa},0)`)
    .call(d3.axisLeft(y).tickValues(o.yt).tickFormat(o.yf)
      .tickSizeInner(-o.tick).tickSizeOuter(0).tickPadding(o.ypad));
  if (o.box) {
    g.append("g").attr("transform", `translate(0,${yb})`)
      .call(d3.axisTop(x).tickValues(o.xt).tickFormat("")
        .tickSizeInner(-o.tick).tickSizeOuter(0));
    g.append("g").attr("transform", `translate(${xb},0)`)
      .call(d3.axisRight(y).tickValues(o.yt).tickFormat("")
        .tickSizeInner(-o.tick).tickSizeOuter(0));
  }
  g.selectAll("g").attr("font-family", FONT).attr("font-size", o.fs);
  g.selectAll(".domain").attr("stroke", "#000").attr("stroke-width", 2.4)
    .attr("stroke-linecap", "square");
  g.selectAll(".tick line").attr("stroke", "#000").attr("stroke-width", 2.2);
  g.selectAll(".tick text").attr("fill", "#000");
  return g;
}

const line = (x, y) => d3.line().x(d => x(d[0])).y(d => y(d[1]));

// ---------- panel 1 ----------
{
  const x = d3.scaleLinear().domain([0, 20]).range([87, 1221]);
  const y = d3.scaleLinear().domain([0, 1]).range([722.7, 47.7]);
  frame(x, y, { xt: specXTicks, yt: specYTicks, xf: String, yf: String,
    tick: 11, xpad: 9, ypad: 3, fs: 27, box: true });

  const g = svg.append("g");
  [[specBlue, "#0000ff"], [specBlack, "#000000"], [specRed, "#ff0000"]].forEach(([vals, c]) => {
    const pts = rank.map((r, i) => [r, vals[i]]);
    g.append("path").datum(pts).attr("d", line(x, y))
      .attr("fill", "none").attr("stroke", c).attr("stroke-width", 6)
      .attr("stroke-linejoin", "round");
    g.selectAll(null).data(pts).join("circle")
      .attr("cx", d => x(d[0])).attr("cy", d => y(d[1])).attr("r", 9)
      .attr("fill", "none").attr("stroke", c).attr("stroke-width", 5);
  });
}

// ---------- panel 2 ----------
{
  const x = d3.scaleLinear().domain([-0.2138, 0.2092]).range([1585, 2746]);
  const y = d3.scaleLinear().domain([0.7911, 1.04]).range([653.3, -27.6]);
  frame(x, y, { xt: eigXTicks, yt: eigYTicks, xf: minus, yf: String,
    tick: 14, xpad: 19, ypad: 8, fs: 44, box: false });

  svg.append("clipPath").attr("id", "clip2").append("rect")
    .attr("x", 1585).attr("y", -30).attr("width", 2746 - 1585).attr("height", 653.3 + 30);

  // unit circle (axes are equal-scaled)
  svg.append("ellipse")
    .attr("clip-path", "url(#clip2)")
    .attr("cx", x(0)).attr("cy", y(0))
    .attr("rx", x(1) - x(0)).attr("ry", y(0) - y(1))
    .attr("fill", "none").attr("stroke", "#000").attr("stroke-width", 5.5)
    .attr("stroke-dasharray", "17 15");

  const g = svg.append("g");
  g.selectAll(null).data(eigBlue).join("circle")
    .attr("cx", d => x(d[0])).attr("cy", d => y(d[1])).attr("r", 14)
    .attr("fill", "none").attr("stroke", "#0000ff").attr("stroke-width", 5);
  const s = 9.5;
  g.selectAll(null).data(eigBlack).join("path")
    .attr("transform", d => `translate(${x(d[0])},${y(d[1])})`)
    .attr("d", `M${-s},${-s}L${s},${s}M${-s},${s}L${s},${-s}`)
    .attr("stroke", "#000").attr("stroke-width", 5);
  g.selectAll(null).data(eigRed).join("circle")
    .attr("cx", d => x(d[0])).attr("cy", d => y(d[1])).attr("r", 14)
    .attr("fill", "none").attr("stroke", "#ff0000").attr("stroke-width", 5);

  svg.append("text").attr("x", (1585 + 2746) / 2).attr("y", 766)
    .attr("text-anchor", "middle").attr("font-family", FONT).attr("font-size", 65)
    .text("Imaginary Component");
  svg.append("text").attr("transform", "translate(1463,457) rotate(-90)")
    .attr("text-anchor", "start").attr("font-family", FONT).attr("font-size", 65)
    .text("Real Component");
}

// ---------- panel 3 ----------
{
  const x = d3.scaleLinear().domain([0, 500]).range([75.7, 1232]);
  const y = d3.scaleLinear().domain([-4, 3]).range([1321, 830.5]);
  frame(x, y, { xt: tsXTicks, yt: ts1YTicks, xf: String, yf: String,
    tick: 11, xpad: 13, ypad: 7, fs: 27, box: true });
  svg.append("path").datum(ts1Black).attr("d", line(x, y))
    .attr("fill", "none").attr("stroke", "#000").attr("stroke-width", 5.5).attr("stroke-linejoin", "round");
  svg.append("path").datum(ts1Red).attr("d", line(x, y))
    .attr("fill", "none").attr("stroke", "#ff0000").attr("stroke-width", 5.5).attr("stroke-linejoin", "round");
}

// ---------- panel 4 ----------
{
  const x = d3.scaleLinear().domain([0, 500]).range([1592, 2772]);
  const y = d3.scaleLinear().domain([-2, 2]).range([1317, 820]);
  frame(x, y, { xt: tsXTicks, yt: ts2YTicks, xf: String, yf: minus,
    tick: 11, xpad: 15, ypad: 9, fs: 27, box: true });
  svg.append("path").datum(ts2Black).attr("d", line(x, y))
    .attr("fill", "none").attr("stroke", "#000").attr("stroke-width", 5.5).attr("stroke-linejoin", "round");
  svg.append("path").datum(ts2Red).attr("d", line(x, y))
    .attr("fill", "none").attr("stroke", "#ff0000").attr("stroke-width", 5.5).attr("stroke-linejoin", "round");
}
</script>
</body>
</html>
